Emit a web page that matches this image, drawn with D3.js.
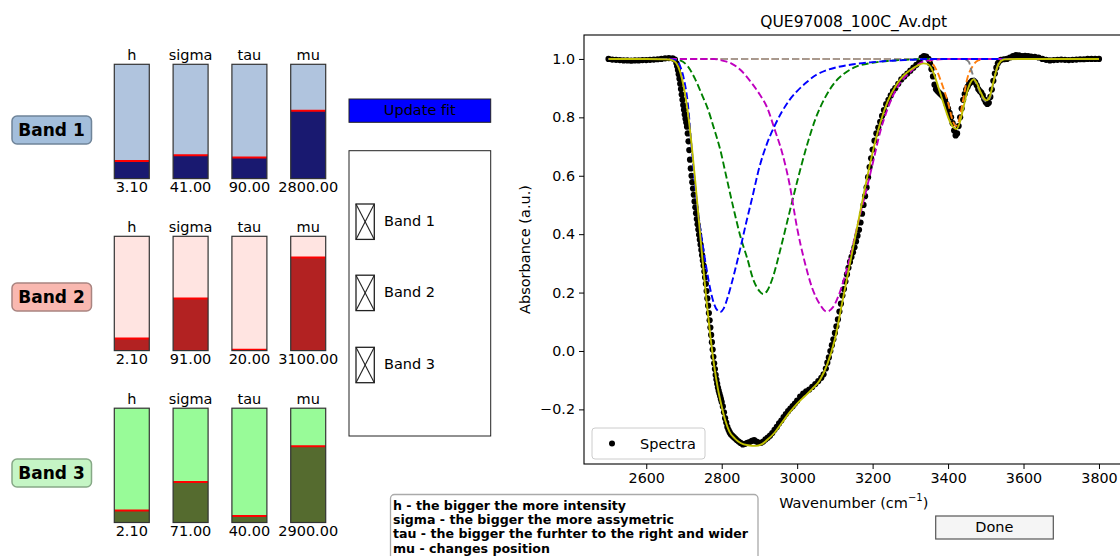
<!DOCTYPE html>
<html lang="en">
<head>
<meta charset="utf-8">
<title>QUE97008_100C_Av.dpt band fit</title>
<script src="https://cdn.jsdelivr.net/npm/d3@7"></script>
<style>
body { margin: 0; background: #fff; }
svg text { font-family: "DejaVu Sans", sans-serif; fill: #000; font-variant-ligatures: none; font-feature-settings: "liga" 0; }
</style>
</head>
<body>
<script>

// ---- slider panel data ----
var bandNames = ["Band 1", "Band 2", "Band 3"];
var paramNames = ["h", "sigma", "tau", "mu"];
var paramMin = [0, 0, 17, 2000];
var paramMax = [20, 200, 414, 3350];
var band1Params = [3.10, 41.00, 90.00, 2800.00];
var band2Params = [2.10, 91.00, 20.00, 3100.00];
var band3Params = [2.10, 71.00, 40.00, 2900.00];
var helpLines = [
  "h - the bigger the more intensity",
  "sigma - the bigger the more assymetric",
  "tau - the bigger the furhter to the right and wider",
  "mu - changes position"
];

// ---- plot data ----
var xTicks = [2600, 2800, 3000, 3200, 3400, 3600, 3800];
var yTicks = [-0.2, 0.0, 0.2, 0.4, 0.6, 0.8, 1.0];

// measured spectrum (black dots)
var specWn = [2500,2510,2520,2530,2540,2550,2560,2570,2580,2590,2600,2610,2620,2630,2640,2650,2660,2670,2676,
  2680,2682,2684,2686,2688,2690,2692,2694,2696,2698,2700,2702,2704,2706,2708,2710,2712,2714,2716,2718,2720,
  2722,2724,2726,2728,2730,2732,2734,2736,2738,2740,2742,2744,2746,2748,2750,2752,2754,2756,2758,2760,
  2762,2764,2766,2768,2770,2772,2774,2776,2778,2780,2782,2784,2786,2788,2790,2792,2794,2796,2798,2800,
  2803,2806,2809,2812,2815,2818,2821,2824,2828,2832,2836,2840,2845,2850,2856,2862,2868,2874,2880,2886,
  2892,2898,2904,2910,2916,2922,2928,2934,2940,2946,2952,2958,2964,2970,2976,2982,2988,2994,3000,3008,
  3016,3024,3032,3040,3048,3056,3064,3070,3076,3080,3084,3088,3092,3096,3100,3104,3108,3112,3116,3120,
  3124,3128,3132,3136,3140,3144,3148,3152,3156,3160,3164,3168,3172,3176,3180,3184,3188,3192,3196,3200,
  3205,3210,3215,3220,3225,3230,3236,3242,3248,3254,3260,3268,3276,3284,3292,3300,3308,3316,3324,3330,
  3336,3342,3348,3352,3356,3360,3364,3368,3372,3376,3380,3384,3388,3392,3396,3400,3404,3408,3412,3416,
  3420,3424,3428,3432,3436,3440,3444,3448,3452,3456,3460,3464,3468,3472,3476,3480,3484,3488,3492,3496,
  3500,3504,3508,3512,3516,3520,3524,3528,3532,3536,3540,3548,3556,3564,3572,3580,3588,3596,3604,3612,
  3620,3630,3640,3650,3660,3670,3680,3690,3700,3710,3720,3730,3740,3750,3760,3770,3780,3790,3800];
var specAbs = [1.000,0.998,0.997,0.996,0.995,0.995,0.994,0.995,0.995,0.996,0.996,0.997,0.998,0.999,1.000,1.002,1.003,1.002,0.998,
  0.985,0.975,0.962,0.948,0.932,0.915,0.897,0.878,0.860,0.842,0.826,0.810,0.795,0.782,0.768,0.745,0.718,0.688,0.655,0.625,0.600,
  0.578,0.556,0.535,0.512,0.492,0.472,0.452,0.434,0.416,0.398,0.381,0.364,0.346,0.328,0.310,0.292,0.272,0.252,0.230,0.205,
  0.180,0.155,0.130,0.105,0.080,0.055,0.030,0.005,-0.020,-0.042,-0.062,-0.082,-0.098,-0.112,-0.125,-0.136,-0.146,-0.155,-0.165,-0.175,
  -0.190,-0.210,-0.230,-0.245,-0.260,-0.270,-0.278,-0.285,-0.290,-0.295,-0.300,-0.305,-0.310,-0.315,-0.320,-0.318,-0.315,-0.312,-0.308,-0.305,
  -0.310,-0.314,-0.315,-0.310,-0.303,-0.297,-0.290,-0.281,-0.270,-0.260,-0.248,-0.238,-0.226,-0.216,-0.206,-0.197,-0.189,-0.180,-0.170,-0.156,
  -0.146,-0.138,-0.132,-0.123,-0.113,-0.103,-0.092,-0.080,-0.060,-0.040,-0.022,0.000,0.020,0.040,0.062,0.084,0.108,0.135,0.162,0.190,
  0.212,0.238,0.262,0.285,0.305,0.322,0.338,0.355,0.375,0.395,0.415,0.440,0.470,0.500,0.530,0.560,0.595,0.630,0.660,0.690,
  0.720,0.745,0.765,0.785,0.805,0.825,0.845,0.860,0.875,0.890,0.900,0.915,0.930,0.940,0.950,0.960,0.970,0.980,0.992,1.005,
  1.010,1.008,1.000,0.985,0.965,0.940,0.912,0.896,0.890,0.885,0.880,0.875,0.870,0.860,0.845,0.830,0.815,0.800,0.780,0.755,
  0.738,0.745,0.770,0.800,0.830,0.860,0.880,0.895,0.905,0.915,0.920,0.925,0.925,0.920,0.910,0.897,0.890,0.885,0.875,0.862,
  0.852,0.846,0.850,0.870,0.895,0.925,0.950,0.970,0.985,0.993,0.997,0.999,1.000,1.005,1.010,1.013,1.012,1.010,1.011,1.010,
  1.008,1.007,1.005,1.000,0.997,0.995,0.996,0.997,0.998,0.997,0.996,0.997,0.998,0.999,0.999,1.000,1.000,1.000,1.000];

// total fit (yellow)
var fitWn = [2500,2600,2650,2670,2680,2690,2700,2710,2720,2730,2740,2750,2760,2770,2780,2790,2800,2810,2820,2835,
  2850,2870,2890,2905,2920,2940,2960,2980,3000,3020,3040,3060,3080,3100,3120,3140,3160,3180,3200,3220,
  3240,3260,3280,3300,3320,3335,3345,3355,3365,3375,3385,3395,3405,3415,3422,3430,3440,3450,3460,3467,
  3475,3485,3495,3503,3510,3520,3530,3540,3550,3600,3700,3800];
var fitAbs = [1.000,1.000,0.999,0.995,0.985,0.955,0.900,0.820,0.710,0.580,0.440,0.300,0.170,0.050,-0.050,-0.130,-0.190,-0.240,-0.275,-0.300,
  -0.315,-0.323,-0.325,-0.320,-0.305,-0.280,-0.245,-0.210,-0.180,-0.155,-0.130,-0.100,-0.045,0.040,0.170,0.300,0.430,0.560,0.680,0.780,
  0.855,0.905,0.940,0.962,0.978,0.985,0.983,0.970,0.940,0.900,0.860,0.820,0.785,0.765,0.760,0.778,0.830,0.885,0.920,0.930,
  0.920,0.890,0.865,0.858,0.870,0.920,0.970,0.993,0.999,1.000,1.000,1.000];

// individual bands (dashed)
var band1Wn = [2500,2650,2680,2690,2700,2710,2720,2730,2740,2750,2760,2770,2780,2790,2796,2805,2815,2825,2835,2850,
  2865,2880,2900,2920,2940,2960,2980,3000,3025,3050,3075,3100,3150,3200,3250,3300,3350,3500,3800];
var band1Abs = [1.000,1.000,0.995,0.975,0.930,0.850,0.700,0.560,0.450,0.360,0.280,0.210,0.160,0.137,0.133,0.145,0.180,0.225,0.275,0.355,
  0.440,0.520,0.630,0.710,0.770,0.820,0.860,0.890,0.920,0.945,0.960,0.970,0.982,0.989,0.994,0.997,1.000,1.000,1.000];
var band2Wn = [2500,2780,2800,2825,2850,2875,2900,2920,2940,2960,2980,3000,3020,3040,3060,3078,3095,3110,3125,3140,
  3160,3185,3200,3220,3240,3260,3280,3300,3325,3350,3400,3800];
var band2Abs = [1.000,1.000,0.995,0.985,0.962,0.925,0.880,0.835,0.760,0.680,0.570,0.420,0.305,0.215,0.160,0.135,0.150,0.190,0.250,0.320,
  0.430,0.560,0.640,0.750,0.830,0.890,0.930,0.955,0.985,0.995,1.000,1.000];
var band3Wn = [2500,2670,2690,2710,2730,2750,2761,2780,2796,2810,2831,2850,2867,2885,2900,2910,2920,2935,2955,2975,
  3000,3025,3050,3075,3100,3125,3150,3200,3250,3300,3350,3800];
var band3Abs = [1.000,1.000,0.995,0.975,0.930,0.870,0.837,0.760,0.690,0.610,0.490,0.390,0.320,0.240,0.205,0.195,0.205,0.250,0.345,0.450,
  0.580,0.700,0.800,0.870,0.920,0.950,0.970,0.987,0.994,0.998,1.000,1.000];
var band4Wn = [2500,3340,3355,3370,3385,3400,3412,3420,3428,3440,3450,3465,3480,3500,3800];
var band4Abs = [1.000,1.000,0.990,0.960,0.910,0.850,0.790,0.770,0.785,0.860,0.928,0.975,0.995,1.000,1.000];
var band5Wn = [2500,3440,3455,3462,3470,3480,3490,3502,3512,3522,3532,3545,3800];
var band5Abs = [1.000,1.000,0.990,0.960,0.930,0.900,0.870,0.855,0.870,0.930,0.980,1.000,1.000];
var baseWn = [2500, 3800];
var baseAbs = [1.000, 1.000];

// ---- colours ----
var sliderBg = ["#b0c4de", "#ffe4e1", "#98fb98"];
var sliderFill = ["#191970", "#b22222", "#556b2f"];
var labelBg = ["#a3bedb", "#f9b8b0", "#c5f5c5"];
var labelEdge = ["#6f8499", "#a98480", "#86a886"];

var w = 1120, h = 556;
var svg = d3.select("body").append("svg")
  .attr("width", w)
  .attr("height", h)
  .style("display", "block");

svg.append("rect").attr("width", w).attr("height", h).attr("fill", "#fff");

// ================= slider panel =================
var allParams = [band1Params, band2Params, band3Params];
var rowTop = [64.3, 236.3, 408.2];
var rowLabelY = [130, 297, 473];
var sliderH = 114.3;

var sx = d3.scaleBand().domain(paramNames).range([114.3, 325.7]).paddingInner(0.405).paddingOuter(0);

bandNames.forEach(function(name, i) {
  var g = svg.append("g");
  var rt = rowTop[i];

  // band label box
  g.append("rect")
    .attr("x", 12).attr("y", rowLabelY[i] - 14)
    .attr("width", 79.5).attr("height", 28)
    .attr("rx", 5)
    .attr("fill", labelBg[i])
    .attr("stroke", labelEdge[i])
    .attr("stroke-width", 1.5);
  g.append("text")
    .attr("x", 51.5).attr("y", rowLabelY[i])
    .attr("text-anchor", "middle")
    .attr("dominant-baseline", "central")
    .style("font-size", "17px")
    .style("font-weight", "bold")
    .text(name);

  paramNames.forEach(function(p, j) {
    var val = allParams[i][j];
    var vy = d3.scaleLinear().domain([paramMin[j], paramMax[j]]).range([rt + sliderH, rt]).clamp(true);
    var x0 = sx(p), bw = sx.bandwidth();

    g.append("rect")
      .attr("x", x0).attr("y", rt)
      .attr("width", bw).attr("height", sliderH)
      .attr("fill", sliderBg[i]);
    g.append("rect")
      .attr("x", x0).attr("y", vy(val))
      .attr("width", bw).attr("height", rt + sliderH - vy(val))
      .attr("fill", sliderFill[i]);
    g.append("line")
      .attr("x1", x0).attr("x2", x0 + bw)
      .attr("y1", vy(val)).attr("y2", vy(val))
      .attr("stroke", "#ff0000")
      .attr("stroke-width", 2);
    g.append("rect")
      .attr("x", x0).attr("y", rt)
      .attr("width", bw).attr("height", sliderH)
      .attr("fill", "none")
      .attr("stroke", "#333")
      .attr("stroke-width", 1.2);

    g.append("text")
      .attr("x", x0 + bw / 2).attr("y", rt - 9.5)
      .attr("text-anchor", "middle")
      .attr("dominant-baseline", "central")
      .style("font-size", "14.5px")
      .text(p);
    g.append("text")
      .attr("x", x0 + bw / 2).attr("y", rt + sliderH + 8)
      .attr("text-anchor", "middle")
      .attr("dominant-baseline", "central")
      .style("font-size", "14.5px")
      .text(d3.format(".2f")(val));
  });
});

// Update fit button
svg.append("rect")
  .attr("x", 349).attr("y", 99).attr("width", 141.7).attr("height", 23.3)
  .attr("fill", "#0000ff").attr("stroke", "#222").attr("stroke-width", 1);
svg.append("text")
  .attr("x", 419.8).attr("y", 110.2)
  .attr("text-anchor", "middle").attr("dominant-baseline", "central")
  .style("font-size", "14.5px")
  .text("Update fit");

// check buttons
svg.append("rect")
  .attr("x", 349).attr("y", 150.7).attr("width", 141.7).attr("height", 285.3)
  .attr("fill", "#fff").attr("stroke", "#222").attr("stroke-width", 1);
var checkY = [221.7, 292.9, 365];
bandNames.forEach(function(name, i) {
  var cy = checkY[i];
  var bx = 356, by = cy - 17.7, bwid = 18.3, bhei = 35.4;
  svg.append("rect")
    .attr("x", bx).attr("y", by).attr("width", bwid).attr("height", bhei)
    .attr("fill", "none").attr("stroke", "#222").attr("stroke-width", 1.3);
  svg.append("line")
    .attr("x1", bx).attr("y1", by).attr("x2", bx + bwid).attr("y2", by + bhei)
    .attr("stroke", "#222").attr("stroke-width", 1.1);
  svg.append("line")
    .attr("x1", bx + bwid).attr("y1", by).attr("x2", bx).attr("y2", by + bhei)
    .attr("stroke", "#222").attr("stroke-width", 1.1);
  svg.append("text")
    .attr("x", 384).attr("y", cy - 1)
    .attr("dominant-baseline", "central")
    .style("font-size", "14.5px")
    .text(name);
});

// help text box
svg.append("rect")
  .attr("x", 390.5).attr("y", 494.5).attr("width", 367.5).attr("height", 80)
  .attr("rx", 4)
  .attr("fill", "#fff").attr("stroke", "#aaa").attr("stroke-width", 1.3);
helpLines.forEach(function(txt, i) {
  svg.append("text")
    .attr("x", 393).attr("y", 505 + i * 14.4)
    .attr("dominant-baseline", "central")
    .style("font-size", "12.6px")
    .style("font-weight", "bold")
    .text(txt);
});

// Done button
svg.append("rect")
  .attr("x", 935.7).attr("y", 516).attr("width", 117.6).attr("height", 23)
  .attr("fill", "#f5f5f5").attr("stroke", "#555").attr("stroke-width", 1.2);
svg.append("text")
  .attr("x", 994.3).attr("y", 526.5)
  .attr("text-anchor", "middle").attr("dominant-baseline", "central")
  .style("font-size", "14.5px")
  .text("Done");

// ================= spectrum plot =================
// (window.top is read-only, so the plot edges get their own names)
var axL = 584, axR = 1123.5, axT = 35, axB = 464;
var x = d3.scaleLinear().domain([2435, 3865]).range([axL, axR]);
var y = d3.scaleLinear().domain([-0.387, 1.082]).range([axB, axT]);

var plot = svg.append("g");
plot.append("defs").append("clipPath").attr("id", "clip")
  .append("rect").attr("x", axL).attr("y", axT).attr("width", axR - axL).attr("height", axB - axT);

var layer = plot.append("g").attr("clip-path", "url(#clip)");

function zipPts(wn, ab) {
  return wn.map(function(d, i) { return [d, ab[i]]; });
}

var curve = d3.line()
  .x(function(d) { return x(d[0]); })
  .y(function(d) { return y(d[1]); })
  .curve(d3.curveMonotoneX);

// spectrum points
layer.selectAll("circle.spec")
  .data(zipPts(specWn, specAbs))
  .enter().append("circle")
  .attr("class", "spec")
  .attr("cx", function(d) { return x(d[0]); })
  .attr("cy", function(d) { return y(d[1]); })
  .attr("r", 3.1)
  .attr("fill", "#000");

// dashed component bands (flat baseline drawn after the two small bands)
var dashed = [
  { wn: band4Wn, ab: band4Abs, col: "#ff7f0e" },
  { wn: band5Wn, ab: band5Abs, col: "#7f7f7f" },
  { wn: baseWn, ab: baseAbs, col: "#a8998f" },
  { wn: band3Wn, ab: band3Abs, col: "#008000" },
  { wn: band2Wn, ab: band2Abs, col: "#bf00bf" },
  { wn: band1Wn, ab: band1Abs, col: "#0000ff" }
];
dashed.forEach(function(b) {
  layer.append("path")
    .attr("d", curve(zipPts(b.wn, b.ab)))
    .attr("fill", "none")
    .attr("stroke", b.col)
    .attr("stroke-width", 1.9)
    .attr("stroke-dasharray", "7,3.2");
});

// total fit
layer.append("path")
  .attr("d", curve(zipPts(fitWn, fitAbs)))
  .attr("fill", "none")
  .attr("stroke", "#bfbf00")
  .attr("stroke-width", 1.9);

// axes
var xAxis = d3.axisBottom(x).tickValues(xTicks).tickSize(5).tickPadding(4).tickFormat(d3.format("d"));
var yAxis = d3.axisLeft(y).tickValues(yTicks).tickSize(5).tickPadding(4).tickFormat(d3.format(".1f"));

var gx = plot.append("g").attr("transform", "translate(0," + axB + ")").call(xAxis);
var gy = plot.append("g").attr("transform", "translate(" + axL + ",0)").call(yAxis);
[gx, gy].forEach(function(g) {
  g.select(".domain").remove();
  g.selectAll(".tick line").attr("stroke", "#000").attr("stroke-width", 1);
  g.selectAll(".tick text")
    .style("font-family", "DejaVu Sans, sans-serif")
    .style("font-size", "14.3px")
    .attr("fill", "#000");
});

plot.append("rect")
  .attr("x", axL).attr("y", axT).attr("width", axR - axL).attr("height", axB - axT)
  .attr("fill", "none").attr("stroke", "#000").attr("stroke-width", 1.1);

// titles
plot.append("text")
  .attr("x", (axL + axR) / 2).attr("y", 22)
  .attr("text-anchor", "middle").attr("dominant-baseline", "central")
  .style("font-size", "15.5px")
  .text("QUE97008_100C_Av.dpt");

var xl = plot.append("text")
  .attr("x", (axL + axR) / 2).attr("y", 503)
  .attr("text-anchor", "middle").attr("dominant-baseline", "central")
  .style("font-size", "14.5px");
xl.append("tspan").text("Wavenumber (cm");
xl.append("tspan").attr("dy", -6).style("font-size", "10px").text("\u22121");
xl.append("tspan").attr("dy", 6).text(")");

plot.append("text")
  .attr("transform", "translate(525," + ((axT + axB) / 2) + ") rotate(-90)")
  .attr("text-anchor", "middle").attr("dominant-baseline", "central")
  .style("font-size", "14.5px")
  .text("Absorbance (a.u.)");

// legend
var lg = plot.append("g");
lg.append("rect")
  .attr("x", 592).attr("y", 428).attr("width", 113).attr("height", 31)
  .attr("rx", 3)
  .attr("fill", "#fff").attr("fill-opacity", 0.8)
  .attr("stroke", "#ccc").attr("stroke-width", 1);
lg.append("circle").attr("cx", 612).attr("cy", 443.5).attr("r", 3).attr("fill", "#000");
lg.append("text")
  .attr("x", 640).attr("y", 443.5)
  .attr("dominant-baseline", "central")
  .style("font-size", "14.5px")
  .text("Spectra");

</script>
</body>
</html>
